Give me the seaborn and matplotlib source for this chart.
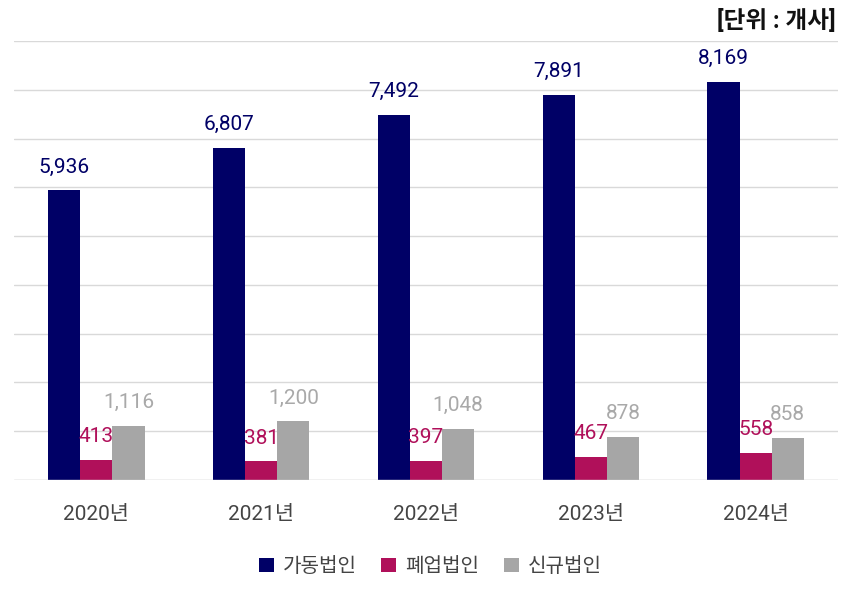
import matplotlib
matplotlib.use("Agg")
import matplotlib.pyplot as plt
import seaborn as sns
import pandas as pd
from matplotlib.patches import Patch

years = ["2020년", "2021년", "2022년", "2023년", "2024년"]
series = ["가동법인", "폐업법인", "신규법인"]
active = [5936, 6807, 7492, 7891, 8169]
closed = [413, 381, 397, 467, 558]
new = [1116, 1200, 1048, 878, 858]
colors = ["#000066", "#B0105A", "#A6A6A6"]
label_colors = ["#000066", "#B0105A", "#A9A9A9"]

sns.set_theme(style="white")
plt.rcParams["font.family"] = ["Roboto", "Noto Sans CJK KR", "DejaVu Sans"]

df = pd.DataFrame({
    "year": years * 3,
    "series": [series[0]] * 5 + [series[1]] * 5 + [series[2]] * 5,
    "value": active + closed + new,
})

fig = plt.figure(figsize=(8.52, 5.95), dpi=100)
ax = fig.add_axes([0.0164, 0.1933, 0.9672, 0.7378])
sns.barplot(data=df, x="year", y="value", hue="series", palette=colors,
            width=0.585, ax=ax, legend=False, saturation=1, linewidth=0)

ax.set_xlim(-0.5, 4.5)
ax.set_ylim(0, 9000)
ax.set_yticks(range(0, 9001, 1000))
ax.yaxis.grid(True, color="#D9D9D9", linewidth=1)
ax.set_axisbelow(True)
ax.axhline(0, color="#D9D9D9", linewidth=1, zorder=5)
ax.tick_params(axis="y", left=False, labelleft=False)
ax.tick_params(axis="x", bottom=False, labelsize=15, colors="#444444", pad=12)
for s in ax.spines.values():
    s.set_visible(False)
ax.set_xlabel("")
ax.set_ylabel("")

for cont, lc in zip(ax.containers, label_colors):
    ax.bar_label(cont, labels=[f"{v:,.0f}" for v in cont.datavalues],
                 padding=10, fontsize=15, color=lc)

fig.text(0.981, 0.965, "[단위 : 개사]", ha="right", va="center",
         fontsize=17, fontweight="bold", color="#111111")

handles = [Patch(facecolor=c, edgecolor="none") for c in colors]
leg = fig.legend(handles, series, loc="center", bbox_to_anchor=(0.505, 0.048),
                 ncol=3, frameon=False, fontsize=14.5, handlelength=0.75,
                 handleheight=0.75, handletextpad=0.45, columnspacing=1.2)
for t in leg.get_texts():
    t.set_color("#444444")

fig.savefig("out.png", dpi=100)
